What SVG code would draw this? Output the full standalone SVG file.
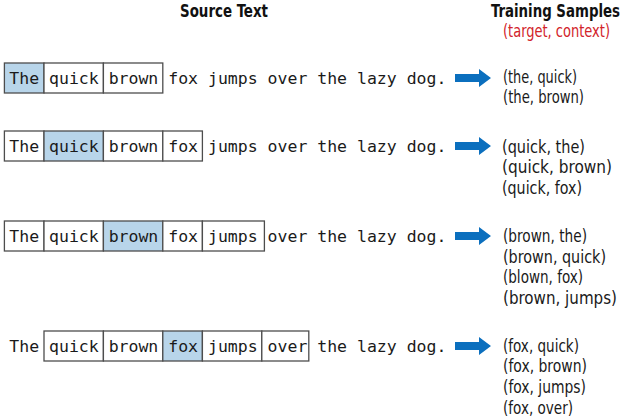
<svg xmlns="http://www.w3.org/2000/svg" width="626" height="419" viewBox="0 0 626 419">
  <style>
    .mono { font-family: "DejaVu Sans Mono", "Liberation Mono", monospace; font-size: 16.5px; fill: #1a1a1a; }
    .cell { fill: #ffffff; stroke: #4d4d4d; stroke-width: 1.3; }
    .hit { fill: #b8d5ea; stroke: #4d4d4d; stroke-width: 1.3; }
    .head { font-family: "DejaVu Sans Condensed", "Liberation Sans", sans-serif; font-weight: bold; font-size: 14.5px; fill: #111111; }
    .sub { font-family: "DejaVu Sans Condensed", "Liberation Sans", sans-serif; font-size: 16px; fill: #d2232a; }
    .pair { font-family: "Liberation Sans Narrow", "DejaVu Sans Condensed", "Liberation Sans", sans-serif; font-size: 18px; fill: #1a1a1a; }
    .arrow { fill: #0b6fbe; }
  </style>
  <defs>
    <path id="arrowShape" d="M0,-4 H24 V-9 L36,0 L24,9 V4 H0 Z"/>
  </defs>

  <!-- column headers -->
  <g id="headers">
    <text class="head" x="224" y="17" text-anchor="middle" textLength="88" lengthAdjust="spacingAndGlyphs" transform="translate(224 17) scale(1 1.24) translate(-224 -17)">Source Text</text>
    <text class="head" x="620" y="17" text-anchor="end" textLength="129" lengthAdjust="spacingAndGlyphs" transform="translate(620 17) scale(1 1.24) translate(-620 -17)">Training Samples</text>
    <text class="sub" x="610" y="37" text-anchor="end" textLength="107" lengthAdjust="spacingAndGlyphs" transform="translate(610 37) scale(1 1.1) translate(-610 -37)">(target, context)</text>
  </g>

  <!-- window 1: target "The" -->
  <g id="row1">
    <rect class="hit" x="4.4" y="63" width="39.6" height="30"/>
    <rect class="cell" x="44" y="63" width="59.4" height="30"/>
    <rect class="cell" x="103.4" y="63" width="59.4" height="30"/>
    <text class="mono" x="9.3" y="84">The quick brown fox jumps over the lazy dog.</text>
  </g>

  <!-- window 2: target "quick" -->
  <g id="row2">
    <rect class="cell" x="4.4" y="131" width="39.6" height="30"/>
    <rect class="hit" x="44" y="131" width="59.4" height="30"/>
    <rect class="cell" x="103.4" y="131" width="59.4" height="30"/>
    <rect class="cell" x="162.8" y="131" width="39.6" height="30"/>
    <text class="mono" x="9.3" y="152">The quick brown fox jumps over the lazy dog.</text>
  </g>

  <!-- window 3: target "brown" -->
  <g id="row3">
    <rect class="cell" x="4.4" y="221" width="39.6" height="30"/>
    <rect class="cell" x="44" y="221" width="59.4" height="30"/>
    <rect class="hit" x="103.4" y="221" width="59.4" height="30"/>
    <rect class="cell" x="162.8" y="221" width="39.6" height="30"/>
    <rect class="cell" x="202.4" y="221" width="62" height="30"/>
    <text class="mono" x="9.3" y="242">The quick brown fox jumps over the lazy dog.</text>
  </g>

  <!-- window 4: target "fox" -->
  <g id="row4">
    <rect class="cell" x="44" y="331" width="59.4" height="30"/>
    <rect class="cell" x="103.4" y="331" width="59.4" height="30"/>
    <rect class="hit" x="162.8" y="331" width="39.6" height="30"/>
    <rect class="cell" x="202.4" y="331" width="59.4" height="30"/>
    <rect class="cell" x="261.8" y="331" width="47" height="30"/>
    <text class="mono" x="9.3" y="352">The quick brown fox jumps over the lazy dog.</text>
  </g>

  <!-- arrows -->
  <g id="connectors">
    <use href="#arrowShape" class="arrow" x="455" y="78"/>
    <use href="#arrowShape" class="arrow" x="455" y="146"/>
    <use href="#arrowShape" class="arrow" x="455" y="236"/>
    <use href="#arrowShape" class="arrow" x="455" y="346"/>
  </g>

  <!-- generated pairs -->
  <g id="samples1">
    <text class="pair" x="503" y="82.5" textLength="74" lengthAdjust="spacingAndGlyphs">(the, quick)</text>
    <text class="pair" x="503" y="103.2" textLength="81" lengthAdjust="spacingAndGlyphs">(the, brown)</text>
  </g>
  <g id="samples2">
    <text class="pair" x="502" y="152.5" textLength="83" lengthAdjust="spacingAndGlyphs">(quick, the)</text>
    <text class="pair" x="502" y="173.2" textLength="110" lengthAdjust="spacingAndGlyphs">(quick, brown)</text>
    <text class="pair" x="502" y="193.9" textLength="80" lengthAdjust="spacingAndGlyphs">(quick, fox)</text>
  </g>
  <g id="samples3">
    <text class="pair" x="503" y="242" textLength="84" lengthAdjust="spacingAndGlyphs">(brown, the)</text>
    <text class="pair" x="503" y="262.7" textLength="103" lengthAdjust="spacingAndGlyphs">(brown, quick)</text>
    <text class="pair" x="503" y="283.4" textLength="80" lengthAdjust="spacingAndGlyphs">(blown, fox)</text>
    <text class="pair" x="503" y="304" textLength="114" lengthAdjust="spacingAndGlyphs">(brown, jumps)</text>
  </g>
  <g id="samples4">
    <text class="pair" x="503" y="351.5" textLength="76" lengthAdjust="spacingAndGlyphs">(fox, quick)</text>
    <text class="pair" x="503" y="372.2" textLength="84" lengthAdjust="spacingAndGlyphs">(fox, brown)</text>
    <text class="pair" x="503" y="392.9" textLength="83" lengthAdjust="spacingAndGlyphs">(fox, jumps)</text>
    <text class="pair" x="503" y="413.6" textLength="70" lengthAdjust="spacingAndGlyphs">(fox, over)</text>
  </g>
</svg>
